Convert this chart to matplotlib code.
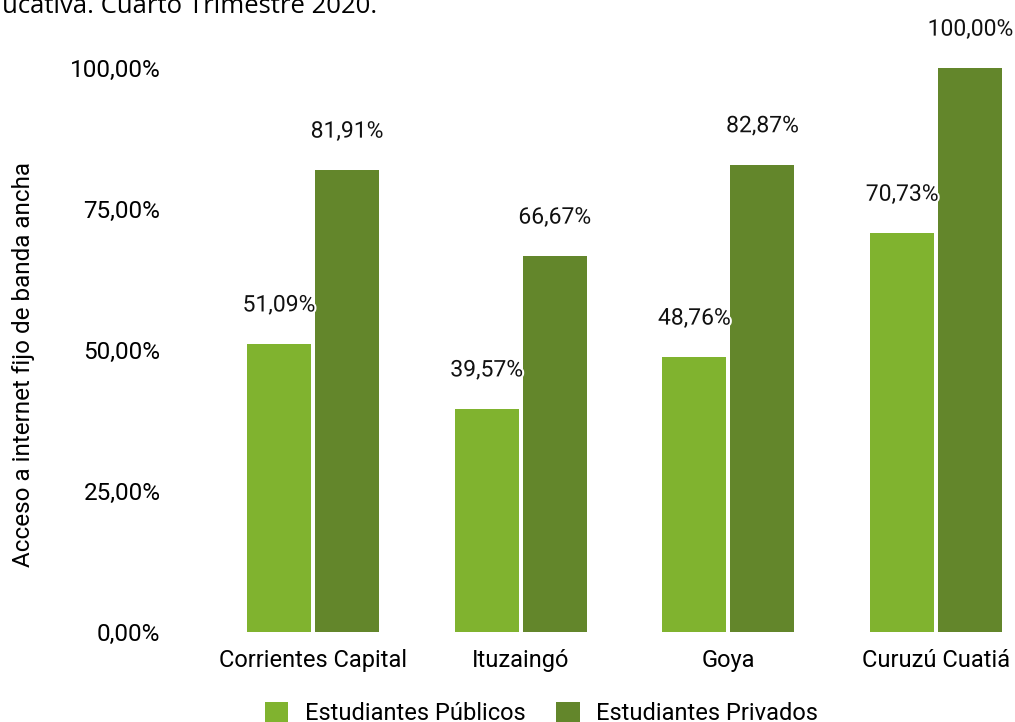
import matplotlib.pyplot as plt
import matplotlib.patheffects as pe
import numpy as np

plt.rcParams['font.family'] = ['Roboto', 'DejaVu Sans']

localidades = ['Corrientes Capital', 'Ituzaingó', 'Goya', 'Curuzú Cuatiá']
publicos = [51.09, 39.57, 48.76, 70.73]
privados = [81.91, 66.67, 82.87, 100.00]
series_names = ['Estudiantes Públicos', 'Estudiantes Privados']
colores = ['#80b32f', '#63862b']


def fmt(v):
    return f'{v:.2f}'.replace('.', ',') + '%'


fig = plt.figure(figsize=(10.15, 7.22), dpi=100)
ax = fig.add_axes([0.206, 0.1247, 0.8186, 0.7811])

x = np.arange(len(localidades))
w = 0.308
off = 0.164
b1 = ax.bar(x - off, publicos, w, color=colores[0], label=series_names[0])
b2 = ax.bar(x + off, privados, w, color=colores[1], label=series_names[1])

halo = [pe.withStroke(linewidth=3, foreground='white')]
for bars, vals in [(b1, publicos), (b2, privados)]:
    for b, v in zip(bars, vals):
        ax.annotate(fmt(v), (b.get_x() + b.get_width() / 2, v),
                    xytext=(0, 28), textcoords='offset points',
                    ha='center', va='center', fontsize=16.5,
                    color='#111111', path_effects=halo, clip_on=False)

ax.set_xlim(-0.5, len(localidades) - 0.5)
ax.set_ylim(0, 100)
ax.set_yticks([0, 25, 50, 75, 100])
ax.set_yticklabels([fmt(t) for t in [0, 25, 50, 75, 100]], fontsize=17.5)
ax.set_xticks(x)
ax.set_xticklabels(localidades, fontsize=17)
ax.tick_params(axis='x', length=0, pad=12)
ax.tick_params(axis='y', length=0, pad=35)
for s in ax.spines.values():
    s.set_visible(False)

ax.set_ylabel('Acceso a internet fijo de banda ancha', fontsize=17.5)
ax.yaxis.set_label_coords(-0.21, 0.475)

fig.legend(loc='lower center', bbox_to_anchor=(0.5335, -0.034), ncol=2,
           frameon=False, fontsize=17, handlelength=1.0, handleheight=1.0,
           columnspacing=1.3, handletextpad=0.7)

fig.text(0.372, 0.974, 'educativa. Cuarto Trimestre 2020.', ha='right',
         va='bottom', fontsize=18.5, family=['Open Sans', 'DejaVu Sans'])

fig.savefig('out.png', dpi=100)
